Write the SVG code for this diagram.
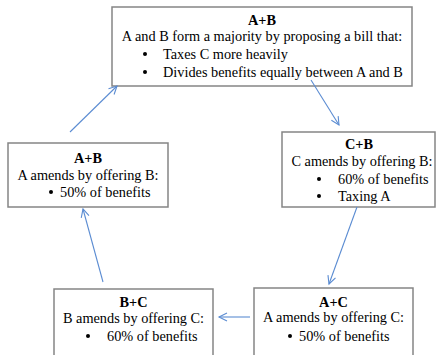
<svg xmlns="http://www.w3.org/2000/svg" width="437" height="355" viewBox="0 0 437 355">
<defs>
<style>
.box{fill:#fff;stroke:#858585;stroke-width:1.5}
text{font-family:'Liberation Serif','Times New Roman',serif;font-size:14.3px;fill:#000}
.t{font-weight:bold;text-anchor:middle}
.c{text-anchor:middle}
.conn{stroke:#5b8cd2;stroke-width:1.1;fill:none;marker-end:url(#ah)}
</style>
<marker id="ah" markerUnits="userSpaceOnUse" markerWidth="12" markerHeight="12" refX="9" refY="5" orient="auto">
<path d="M1,1 L9,5 L1,9" fill="none" stroke="#5b8cd2" stroke-width="1.1"/>
</marker>
</defs>
<rect width="437" height="355" fill="#fff"/>
<g id="top" font-family="Liberation Serif, serif">
<rect class="box" x="112" y="7" width="300" height="79"/>
<text class="t" x="262" y="25">A+B</text>
<text class="c" x="262" y="41">A and B form a majority by proposing a bill that:</text>
<circle cx="145" cy="54" r="2"/>
<text x="163" y="59">Taxes C more heavily</text>
<circle cx="145" cy="72" r="2"/>
<text x="163" y="77">Divides benefits equally between A and B</text>
</g>
<g id="left">
<rect class="box" x="8" y="143" width="160" height="64"/>
<text class="t" x="88" y="163">A+B</text>
<text class="c" x="88" y="180">A amends by offering B:</text>
<circle cx="51" cy="192" r="2"/>
<text x="60" y="197">50% of benefits</text>
</g>
<g id="right">
<rect class="box" x="282" y="132" width="153" height="75"/>
<text class="t" x="359" y="149">C+B</text>
<text class="c" x="362" y="166">C amends by offering B:</text>
<circle cx="319" cy="179" r="2"/>
<text x="338" y="184">60% of benefits</text>
<circle cx="319" cy="196" r="2"/>
<text x="338" y="201">Taxing A</text>
</g>
<g id="bottomleft">
<rect class="box" x="54" y="289" width="159" height="80"/>
<text class="t" x="133.5" y="307">B+C</text>
<text class="c" x="133.5" y="323">B amends by offering C:</text>
<circle cx="88" cy="336" r="2"/>
<text x="107" y="341">60% of benefits</text>
</g>
<g id="bottomright">
<rect class="box" x="254" y="288" width="159" height="80"/>
<text class="t" x="333.5" y="307">A+C</text>
<text class="c" x="333.5" y="322">A amends by offering C:</text>
<circle cx="290" cy="336" r="2"/>
<text x="299" y="341">50% of benefits</text>
</g>
<g id="connectors">
<line class="conn" x1="70" y1="132" x2="117" y2="86"/>
<line class="conn" x1="311" y1="80" x2="339" y2="125"/>
<line class="conn" x1="357" y1="207" x2="329" y2="284"/>
<line class="conn" x1="250" y1="317" x2="219" y2="317"/>
<line class="conn" x1="103" y1="282" x2="83" y2="209"/>
</g>
</svg>
